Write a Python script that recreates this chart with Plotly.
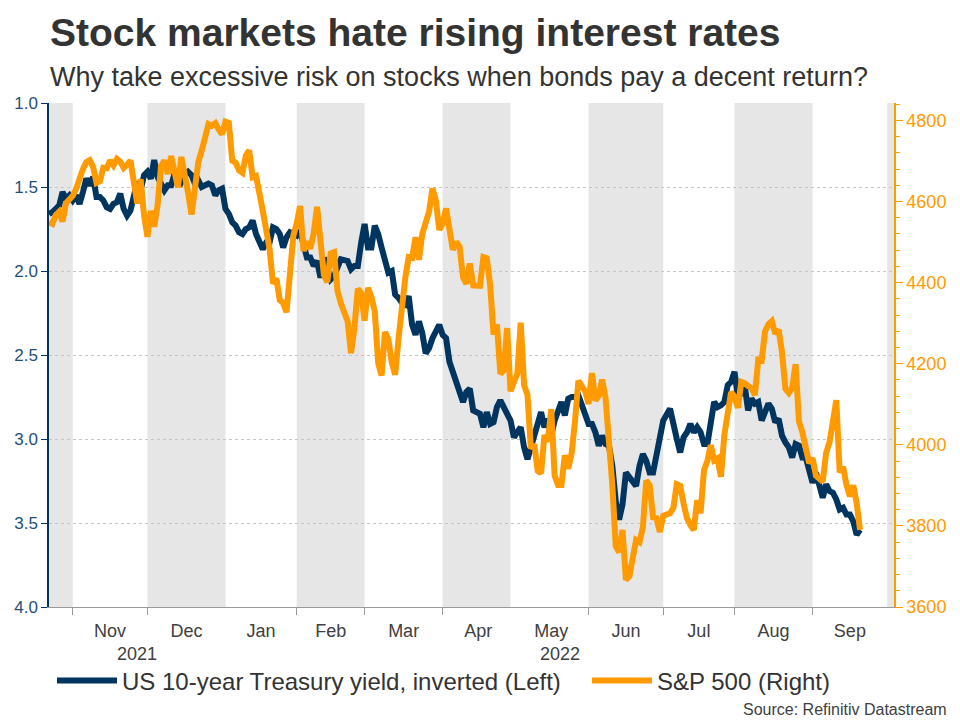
import pandas as pd
import plotly.graph_objects as go

# ---------------- data ----------------
start_date = "2021-10-21"
end_date = "2022-09-21"
axis_end = "2022-10-05"
holidays = ["2021-11-25", "2021-12-24", "2022-01-17", "2022-02-21", "2022-04-15",
            "2022-05-30", "2022-06-20", "2022-07-04", "2022-09-05"]

spx = [
    4549, 4545, 4567, 4575, 4551, 4596, 4605,  # Oct
    4614, 4631, 4660, 4680, 4697, 4702, 4685, 4646, 4650, 4683, 4682, 4701, 4689, 4705, 4698,
    4683, 4691, 4701, 4595, 4655, 4567,  # Nov
    4513, 4577, 4538, 4591, 4687, 4701, 4668, 4712, 4669, 4635, 4710, 4669, 4621, 4568, 4649,
    4697, 4726, 4791, 4787, 4793, 4778, 4766,  # Dec
    4797, 4794, 4701, 4696, 4677, 4671, 4713, 4726, 4660, 4663, 4577, 4533, 4483, 4398, 4410,
    4357, 4350, 4327, 4432, 4516,  # Jan
    4546, 4589, 4478, 4501, 4484, 4522, 4587, 4504, 4419, 4401, 4472, 4475, 4380, 4349, 4305,
    4226, 4288, 4385, 4374,  # Feb
    4306, 4387, 4364, 4329, 4201, 4171, 4278, 4260, 4204, 4173, 4262, 4358, 4412, 4463, 4461,
    4512, 4456, 4520, 4543, 4575, 4632, 4603, 4530,  # Mar
    4546, 4583, 4526, 4481, 4500, 4488, 4413, 4397, 4447, 4393, 4392, 4463, 4460, 4394, 4272,
    4297, 4175, 4184, 4288, 4132,  # Apr
    4155, 4175, 4301, 4147, 4123, 3991, 4001, 3936, 3930, 4024, 4008, 4088, 3924, 3901, 3901,
    3974, 3941, 3979, 4058, 4158, 4132,  # May
    4101, 4177, 4109, 4121, 4161, 4116, 4018, 3901, 3750, 3735, 3790, 3667, 3675, 3765, 3760,
    3796, 3912, 3900, 3821, 3819, 3785,  # Jun
    3825, 3831, 3845, 3903, 3899, 3855, 3819, 3802, 3790, 3863, 3831, 3937, 3960, 3999, 3962,
    3967, 3921, 4024, 4072, 4130,  # Jul
    4119, 4091, 4155, 4152, 4145, 4140, 4122, 4210, 4208, 4280, 4297, 4305, 4274, 4284, 4228,
    4138, 4128, 4141, 4199, 4058, 4031, 3986, 3955,  # Aug
    3967, 3924, 3909, 3980, 4006, 4067, 4110, 3932, 3946, 3901, 3873, 3900, 3856, 3790,  # Sep
]

us10y = [
    1.66, 1.65, 1.63, 1.61, 1.53, 1.57, 1.55,  # Oct
    1.58, 1.55, 1.60, 1.53, 1.45, 1.49, 1.44, 1.56, 1.56, 1.58, 1.62, 1.63, 1.60, 1.59, 1.54,
    1.63, 1.67, 1.64, 1.47, 1.52, 1.43,  # Nov
    1.41, 1.45, 1.34, 1.44, 1.48, 1.52, 1.49, 1.49, 1.42, 1.44, 1.47, 1.43, 1.41, 1.43, 1.48,
    1.46, 1.50, 1.48, 1.49, 1.55, 1.52, 1.51,  # Dec
    1.63, 1.66, 1.71, 1.73, 1.77, 1.78, 1.75, 1.74, 1.70, 1.78, 1.87, 1.83, 1.83, 1.74, 1.75,
    1.78, 1.86, 1.80, 1.77, 1.78,  # Jan
    1.79, 1.76, 1.83, 1.92, 1.92, 1.97, 1.94, 2.04, 1.92, 1.98, 2.05, 2.03, 1.97, 1.93, 1.94,
    1.99, 1.97, 1.97, 1.83,  # Feb
    1.72, 1.86, 1.86, 1.73, 1.78, 1.86, 1.95, 2.01, 2.00, 2.14, 2.16, 2.19, 2.20, 2.15, 2.32,
    2.38, 2.30, 2.37, 2.49, 2.46, 2.40, 2.35, 2.32,  # Mar
    2.38, 2.40, 2.54, 2.61, 2.66, 2.72, 2.78, 2.72, 2.70, 2.83, 2.85, 2.93, 2.84, 2.91, 2.90,
    2.81, 2.77, 2.82, 2.85, 2.89,  # Apr
    2.99, 2.96, 2.93, 3.05, 3.12, 3.05, 2.99, 2.91, 2.84, 2.93, 2.88, 2.98, 2.89, 2.84, 2.78,
    2.86, 2.76, 2.75, 2.75, 2.74, 2.85,  # May
    2.91, 2.91, 2.96, 3.04, 2.98, 3.03, 3.04, 3.16, 3.37, 3.48, 3.39, 3.20, 3.23, 3.28, 3.16,
    3.09, 3.13, 3.20, 3.20, 3.10, 2.98,  # Jun
    2.89, 2.82, 2.93, 3.00, 3.08, 2.99, 2.96, 2.91, 2.96, 2.93, 2.96, 3.03, 3.03, 2.91, 2.78,
    2.81, 2.80, 2.78, 2.68, 2.66,  # Jul
    2.60, 2.75, 2.73, 2.68, 2.83, 2.76, 2.79, 2.78, 2.89, 2.84, 2.79, 2.82, 2.90, 2.88, 2.98,
    3.02, 3.05, 3.11, 3.03, 3.04, 3.11, 3.11, 3.19,  # Aug
    3.26, 3.20, 3.35, 3.27, 3.31, 3.32, 3.36, 3.42, 3.41, 3.45, 3.45, 3.49, 3.57, 3.54,  # Sep
]

month_labels = ["Nov", "Dec", "Jan", "Feb", "Mar", "Apr", "May", "Jun", "Jul", "Aug", "Sep"]
month_starts = ["2021-11-01", "2021-12-01", "2022-01-01", "2022-02-01", "2022-03-01",
                "2022-04-01", "2022-05-01", "2022-06-01", "2022-07-01", "2022-08-01",
                "2022-09-01", "2022-10-01"]
year_labels = ["2021", "2022"]
shaded_months = [(start_date, "2021-11-01"), ("2021-12-01", "2022-01-01"),
                 ("2022-02-01", "2022-03-01"), ("2022-04-01", "2022-05-01"),
                 ("2022-06-01", "2022-07-01"), ("2022-08-01", "2022-09-01"),
                 ("2022-10-01", axis_end)]

left_ticks = [1.0, 1.5, 2.0, 2.5, 3.0, 3.5, 4.0]
right_ticks = [3600, 3800, 4000, 4200, 4400, 4600, 4800]

dates = [d for d in pd.bdate_range(start_date, end_date) if d.strftime("%Y-%m-%d") not in holidays]
assert len(dates) == len(spx) == len(us10y), (len(dates), len(spx), len(us10y))


def weekday_mid(a, b):
    days = pd.bdate_range(a, pd.Timestamp(b) - pd.Timedelta(days=1))
    m = len(days) / 2.0
    i = int(m)
    return days[i] + pd.Timedelta(days=(m - i))


month_mids = [weekday_mid(month_starts[i], month_starts[i + 1]) for i in range(len(month_labels))]
year_mids = [weekday_mid(start_date, "2022-01-01"), weekday_mid("2022-01-03", axis_end)]

# ---------------- layout constants ----------------
W, H = 960, 720
L, R, T, B = 49, 894, 103, 607
pw, ph = R - L, B - T


def px(xp):
    return (xp - L) / pw


def py(yp):
    return (B - yp) / ph


NAVY = "#00355F"
ORANGE = "#FF9A00"
TICKBLUE = "#1F4E79"
FONT = "Liberation Sans, Arial, sans-serif"

fig = go.Figure()
fig.add_trace(go.Scatter(x=dates, y=us10y, name="US 10-year Treasury yield, inverted (Left)",
                         mode="lines", line=dict(color=NAVY, width=6), yaxis="y",
                         legend="legend"))
fig.add_trace(go.Scatter(x=dates, y=spx, name="S&P 500 (Right)",
                         mode="lines", line=dict(color=ORANGE, width=6), yaxis="y2",
                         legend="legend2"))

shapes = []
for a, b in shaded_months:
    shapes.append(dict(type="rect", xref="x", yref="paper", x0=a, x1=b, y0=0, y1=1,
                       fillcolor="#E6E6E6", line=dict(width=0), layer="below"))

annotations = [
    dict(text="<b>Stock markets hate rising interest rates</b>", xref="paper", yref="paper",
         x=px(48), y=py(32), xanchor="left", yanchor="middle", showarrow=False,
         font=dict(size=39, color="#333333", family=FONT)),
    dict(text="Why take excessive risk on stocks when bonds pay a decent return?",
         xref="paper", yref="paper", x=px(48), y=py(77), xanchor="left", yanchor="middle",
         showarrow=False, font=dict(size=27, color="#333333", family=FONT)),
    dict(text="Source: Refinitiv Datastream", xref="paper", yref="paper", x=px(949), y=py(709),
         xanchor="right", yanchor="middle", showarrow=False,
         font=dict(size=16, color="#404040", family=FONT)),
]
for lbl, xm in zip(year_labels, year_mids):
    annotations.append(dict(text=lbl, xref="x", yref="paper", x=xm, y=py(654), xanchor="center",
                            yanchor="middle", showarrow=False,
                            font=dict(size=18, color="#404040", family=FONT)))

legend_style = dict(orientation="h", xanchor="left", y=py(681), yanchor="middle",
                    font=dict(size=24, color="#333333"), itemwidth=60,
                    bgcolor="rgba(0,0,0,0)")

fig.update_layout(
    width=W, height=H,
    margin=dict(l=L, r=W - R, t=T, b=H - B, pad=0),
    paper_bgcolor="white", plot_bgcolor="white",
    font=dict(family=FONT, color="#404040"),
    showlegend=True,
    legend=dict(x=px(52), **legend_style),
    legend2=dict(x=px(587), **legend_style),
    xaxis=dict(
        type="date", range=[start_date, axis_end],
        rangebreaks=[dict(bounds=["sat", "mon"])],
        tickmode="array", tickvals=month_mids, ticktext=month_labels, ticks="",
        ticklabelstandoff=7,
        tickfont=dict(size=18, color="#404040"),
        showgrid=False, showline=True, linecolor="#9A9A9A", linewidth=1,
        minor=dict(tickmode="array", tickvals=month_starts, ticks="outside", ticklen=7,
                   tickcolor="#9A9A9A", showgrid=False),
        zeroline=False,
    ),
    yaxis=dict(
        range=[4.0, 1.0], tickmode="array", tickvals=left_ticks, tickformat=".1f",
        ticks="outside", ticklen=6, tickcolor=NAVY, showline=True, linecolor=NAVY, linewidth=1.5,
        tickfont=dict(size=17, color=TICKBLUE),
        showgrid=True, gridcolor="#C6C6C6", griddash="3px,3px", gridwidth=1, zeroline=False,
    ),
    yaxis2=dict(
        range=[3600, 4843], overlaying="y", side="right", tickmode="array", tickvals=right_ticks,
        ticks="outside", ticklen=7, tickcolor=ORANGE, showline=True, linecolor=ORANGE,
        linewidth=1.5, tickfont=dict(size=18, color=ORANGE), showgrid=False, zeroline=False,
        minor=dict(dtick=40, tick0=3600, ticks="outside", ticklen=4, tickcolor=ORANGE,
                   showgrid=False),
    ),
    shapes=shapes,
    annotations=annotations,
)

fig.write_html("out.html")
